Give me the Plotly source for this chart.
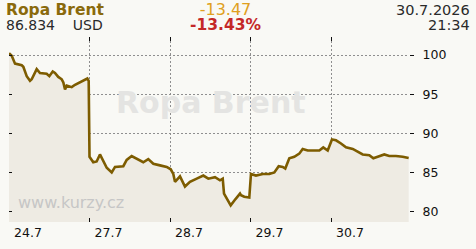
import plotly.graph_objects as go

# trading-day position (0 = 24.7, weekend collapsed) and Brent price
day_pos = [0.0, 0.034, 0.075, 0.158, 0.178, 0.199, 0.220, 0.261, 0.282, 0.344, 0.385, 0.468,
           0.501, 0.543, 0.571, 0.612, 0.655, 0.675, 0.696, 0.717, 0.779, 0.820, 0.861, 0.903,
           0.944, 0.973, 0.990,
           1.0, 1.047, 1.089, 1.130, 1.171, 1.214, 1.276, 1.317, 1.420, 1.462, 1.524, 1.586,
           1.668, 1.730, 1.793, 1.876, 1.959,
           2.009, 2.041, 2.062, 2.124, 2.186, 2.248, 2.332, 2.414, 2.476, 2.559, 2.621, 2.655,
           2.671, 2.724, 2.754, 2.807, 2.870, 2.882, 2.923, 2.985,
           3.006, 3.068, 3.152, 3.234, 3.296, 3.350, 3.400, 3.432, 3.482, 3.544, 3.606, 3.648,
           3.711, 3.793, 3.855, 3.904, 3.959,
           4.012, 4.062, 4.124, 4.186, 4.270, 4.332, 4.394, 4.476, 4.526, 4.580, 4.662, 4.724,
           4.807, 4.890, 4.965]
price = [100.24, 99.9, 98.9, 98.7, 98.5, 97.9, 97.3, 96.7, 96.9, 98.2, 97.7, 97.6,
         97.3, 97.9, 97.7, 97.2, 96.9, 96.5, 95.6, 96.1, 95.9, 96.2, 96.4, 96.6,
         96.8, 97.0, 96.7,
         87.0, 86.3, 86.4, 87.3, 86.4, 85.6, 85.0, 85.7, 85.8, 86.6, 87.1, 86.8,
         86.3, 86.7, 86.1, 85.9, 85.7,
         85.4, 84.8, 83.8, 84.5, 83.2, 83.8, 84.2, 84.6, 84.2, 84.4, 84.0, 84.2,
         82.3, 81.3, 80.8, 81.5, 82.3, 82.1, 81.9, 81.8,
         84.8, 84.6, 84.8, 84.8, 85.0, 85.8, 85.7, 85.5, 86.8, 87.0, 87.4, 88.0,
         87.8, 87.8, 87.8, 88.2, 87.8,
         89.2, 89.1, 88.7, 88.2, 88.0, 87.6, 87.3, 87.2, 86.8, 87.0, 87.3, 87.1,
         87.1, 87.0, 86.834]

x_tick_vals = [0, 1, 2, 3, 4]
x_tick_text = ["24.7", "27.7", "28.7", "29.7", "30.7"]
y_tick_vals = [80, 85, 90, 95, 100]
y_tick_text = ["80", "85", "90", "95", "100"]

title = "Ropa Brent"
last_price = "86.834"
currency = "USD"
change_abs = "-13.47"
change_pct = "-13.43%"
date_text = "30.7.2026"
time_text = "21:34"

W, H = 476, 249
L, R, T, B = 9, 409, 37, 232
FONT = "DejaVu Sans"
BG = "#f9f9f5"
LINE = "#7d5c00"
FILL = "#eeebe3"
GRID = "#8f8f8f"


def px(p):
    return (p - L) / (R - L)


def py(p):
    return (B - p) / (B - T)


fig = go.Figure()
fig.add_trace(go.Scatter(
    x=day_pos, y=price, mode="lines", fill="tozeroy", fillcolor=FILL,
    line=dict(color=LINE, width=2.6), hoverinfo="skip", showlegend=False))
# invisible trace for the mirrored left-side ticks
fig.add_trace(go.Scatter(x=[day_pos[0]], y=[price[0]], yaxis="y2", mode="markers",
                         marker=dict(opacity=0), showlegend=False, hoverinfo="skip"))

fig.update_layout(
    width=W, height=H,
    margin=dict(l=L, r=W - R, t=T, b=H - B, pad=0),
    paper_bgcolor=BG, plot_bgcolor=BG,
    font=dict(family=FONT, color="#222222", size=12),
    xaxis=dict(range=[0, (R - L) / 80.5], tickvals=x_tick_vals, ticktext=x_tick_text,
               showgrid=True, gridcolor=GRID, griddash="2px,2px", gridwidth=1,
               ticks="inside", ticklen=4, tickcolor="#111111", mirror="ticks",
               showline=False, zeroline=False, ticklabelshift=19, ticklabelstandoff=1,
               tickfont=dict(size=12.5, family=FONT, color="#111111")),
    yaxis=dict(range=[80 - 11 / 8.25, 100 + 19 / 8.25], side="right",
               tickvals=y_tick_vals, ticktext=y_tick_text,
               showgrid=True, gridcolor=GRID, griddash="2px,2px", gridwidth=1,
               ticks="outside", ticklen=4, tickcolor="#111111",
               showline=False, zeroline=False, ticklabelstandoff=6,
               tickfont=dict(size=12.5, family=FONT, color="#111111")),
    yaxis2=dict(overlaying="y", side="left", matches="y", tickvals=y_tick_vals,
                showticklabels=False, showgrid=False, zeroline=False,
                ticks="inside", ticklen=3, tickcolor="#111111"),
)

ann = []
# watermarks
ann.append(dict(text=title, x=px(211), y=py(106), xref="paper", yref="paper",
                xanchor="center", yanchor="middle", showarrow=False,
                font=dict(size=30, family=FONT, color="#e4e4e2", weight="bold")))
ann.append(dict(text="www.kurzy.cz", x=px(16), y=py(211), xref="paper", yref="paper",
                xanchor="left", yanchor="middle", showarrow=False,
                font=dict(size=16, family=FONT, color="#c6c6c6")))

# header: three two-line blocks (line pitch set by base font size 11.5 -> ~15px)
left_block = (f"<b><span style='color:#8a6a0c;font-size:15.5px'>{title}</span></b><br>"
              f"<span style='font-size:14px'>{last_price}&nbsp;&nbsp;&nbsp;&nbsp;{currency}</span>")
mid_block = (f"<span style='color:#e0a020;font-size:16px'>{change_abs}</span><br>"
             f"<b><span style='color:#c42828;font-size:15.5px'>{change_pct}</span></b>")
right_block = (f"<span style='font-size:14.5px'>{date_text}</span><br>"
               f"<span style='font-size:14.5px'>{time_text}</span>")
ann.append(dict(text=left_block, x=px(4), y=py(16), xref="paper", yref="paper",
                xanchor="left", yanchor="middle", align="left", showarrow=False,
                font=dict(size=11.5, family=FONT, color="#2a2a2a")))
ann.append(dict(text=mid_block, x=px(225), y=py(16), xref="paper", yref="paper",
                xanchor="center", yanchor="middle", align="center", showarrow=False,
                font=dict(size=11.5, family=FONT, color="#2a2a2a")))
ann.append(dict(text=right_block, x=px(472), y=py(16), xref="paper", yref="paper",
                xanchor="right", yanchor="middle", align="right", showarrow=False,
                font=dict(size=11.5, family=FONT, color="#2a2a2a")))
fig.update_layout(annotations=ann)

fig.write_html("out.html")
